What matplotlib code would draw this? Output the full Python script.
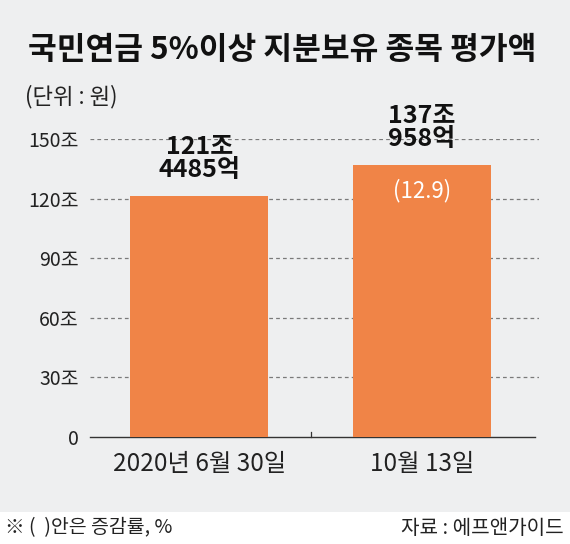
import matplotlib
matplotlib.use("Agg")
import matplotlib.pyplot as plt
from matplotlib.patches import Rectangle

plt.rcParams['font.family'] = ['Noto Sans CJK KR', 'DejaVu Sans']

# data
categories = ['2020년 6월 30일', '10월 13일']
values = [121.4485, 137.0958]          # 조 원
value_labels = ['121조\n4485억', '137조\n958억']
change_labels = ['', '(12.9)']
yticks = [0, 30, 60, 90, 120, 150]
ytick_labels = ['0', '30조', '60조', '90조', '120조', '150조']

bg = '#eeeff0'
bar_color = '#f08447'

fig = plt.figure(figsize=(5.7, 5.44), dpi=100)
fig.patch.set_facecolor('white')
# gray panel + white footnote strip
fig.add_artist(Rectangle((0, 1 - 512 / 544), 1, 512 / 544, transform=fig.transFigure,
                         facecolor=bg, edgecolor='none', zorder=0))

W, H = 570, 544
ax = fig.add_axes([90 / W, 1 - 437 / H, (539 - 90) / W, (437 - 139) / H])
ax.set_facecolor('none')

x = list(range(len(categories)))
ax.bar(x, values, width=0.62, color=bar_color, zorder=3)
ax.set_xlim(-0.492, 1.526)
ax.set_ylim(0, 150)

for v in yticks[1:]:
    ax.axhline(v, color='#7a7a7a', lw=0.9, ls=(0, (3, 2.5)), zorder=1)

ax.set_yticks(yticks)
ax.set_yticklabels(ytick_labels, fontsize=14, color='#222222')
ax.set_xticks(x)
ax.set_xticklabels(categories, fontsize=17.5, color='#222222')
ax.tick_params(axis='y', length=0, pad=8)
ax.tick_params(axis='x', length=0, pad=10)
for s in ['top', 'right', 'left']:
    ax.spines[s].set_visible(False)
ax.spines['bottom'].set_color('#333333')
ax.spines['bottom'].set_linewidth(1.0)
ax.spines['bottom'].set_bounds(-0.492, 1.508)
ax.plot([0.5, 0.5], [0, 2.5], color='#333333', lw=0.9, clip_on=False)

for xi, v, lab, ch in zip(x, values, value_labels, change_labels):
    ax.text(xi, v + 7, lab, ha='center', va='bottom', fontsize=18,
            fontweight='bold', color='#111111', linespacing=0.95, zorder=4)
    if ch:
        ax.text(xi, v - 13, ch, ha='center', va='center', fontsize=16,
                color='white', zorder=4)

fig.text(28 / W, 1 - 50 / H, '국민연금 5%이상 지분보유 종목 평가액', fontsize=22.5,
         fontweight='bold', color='#111111', ha='left', va='center')
fig.text(25 / W, 1 - 97 / H, '(단위 : 원)', fontsize=16, color='#222222',
         ha='left', va='center')
fig.text(5 / W, 1 - 528 / H, '※ (  )안은 증감률, %', fontsize=14, color='#222222',
         ha='left', va='center')
fig.text(564 / W, 1 - 528 / H, '자료 : 에프앤가이드', fontsize=14.5, color='#222222',
         ha='right', va='center')

fig.savefig('out.png', dpi=100, facecolor=fig.get_facecolor())
